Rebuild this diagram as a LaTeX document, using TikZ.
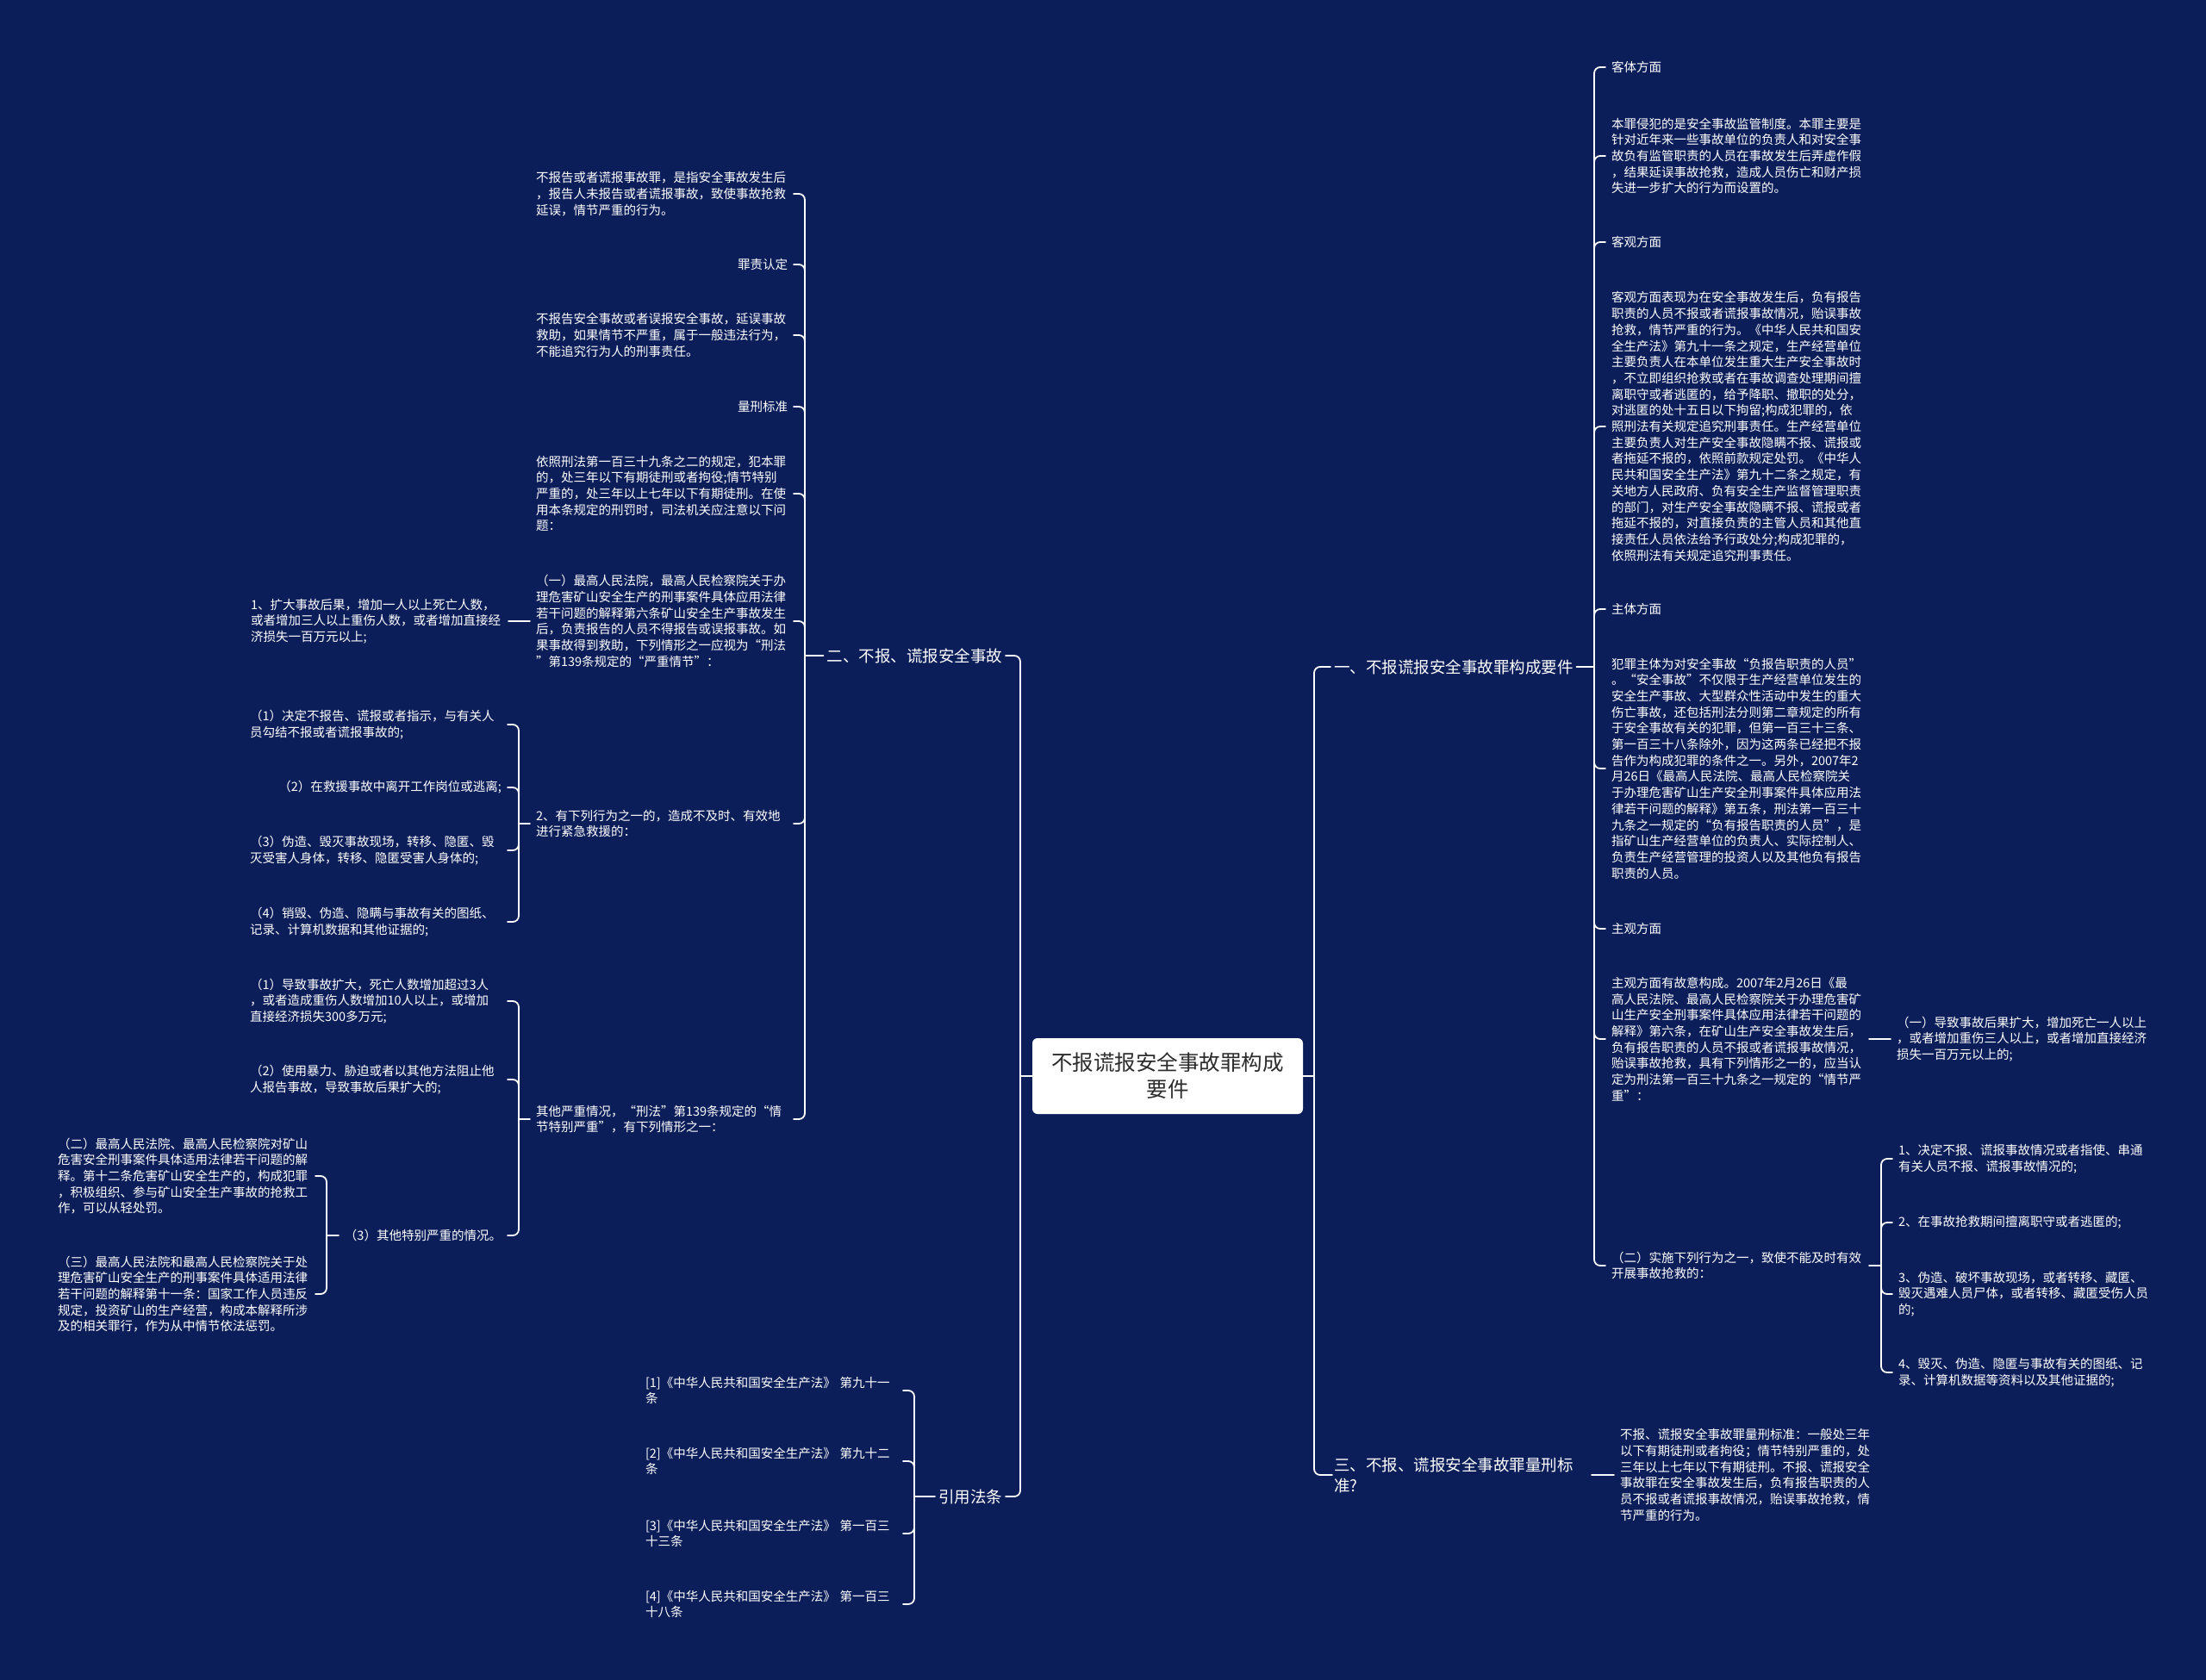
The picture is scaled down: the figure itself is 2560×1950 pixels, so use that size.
\documentclass[tikz,border=0pt]{standalone}
\usepackage{fontspec}
\setmainfont{Noto Sans CJK SC}
\begin{document}
\begin{tikzpicture}[x=1pt,y=-1pt, line cap=round, line join=round]
  \definecolor{Navy}{HTML}{0C1E5A}
  \definecolor{Ink}{HTML}{2B2B2B}

  \tikzset{
    root/.style={fill=white, rounded corners=6pt, minimum width=314pt, minimum height=88pt,
      align=center, text=Ink, font=\fontsize{24.5}{31}\selectfont, inner sep=0pt},
    branch/.style={text=white, font=\fontsize{18.5}{24}\selectfont, inner sep=0pt, outer xsep=4pt, align=left},
    leaf/.style={text=white, font=\fontsize{14.5}{18.7}\selectfont, inner sep=0pt, outer xsep=7pt, align=left},
    para/.style={leaf, text width=292pt},
    link/.style={draw=white, line width=1.8pt, rounded corners=7pt}
  }

  \fill[Navy] (0,0) rectangle (2560,1950);

  % bar positions
  \coordinate (tl) at (1184,0);
  \coordinate (tr) at (1525,0);
  \coordinate (b2) at (934,0);
  \coordinate (b7) at (602,0);
  \coordinate (b8) at (602,0);
  \coordinate (b8c) at (379,0);
  \coordinate (bref) at (1061,0);
  \coordinate (bk) at (1850,0);
  \coordinate (bk9) at (2183,0);

  \node[root] (root) at (1355,1249) {不报谎报安全事故罪构成\\要件};

  \node[branch, anchor=east] (l2) at (1167,761) {二、不报、谎报安全事故};
  \node[branch, anchor=east] (lref) at (1167,1737) {引用法条};
  \node[branch, anchor=west] (l1) at (1544,774) {一、不报谎报安全事故罪构成要件};
  \node[branch, anchor=west, outer xsep=-2pt, xshift=6pt] (l3) at (1544,1712) {三、不报、谎报安全事故罪量刑标\\准?};

  % left: 二
  \node[para, anchor=east] (s1) at (921,225) {不报告或者谎报事故罪，是指安全事故发生后\\，报告人未报告或者谎报事故，致使事故抢救\\延误，情节严重的行为。};
  \node[leaf, anchor=east] (s2) at (921,307) {罪责认定};
  \node[para, anchor=east] (s3) at (921,389) {不报告安全事故或者误报安全事故，延误事故\\救助，如果情节不严重，属于一般违法行为，\\不能追究行为人的刑事责任。};
  \node[leaf, anchor=east] (s4) at (921,472) {量刑标准};
  \node[para, anchor=east] (s5) at (921,573) {依照刑法第一百三十九条之二的规定，犯本罪\\的，处三年以下有期徒刑或者拘役;情节特别\\严重的，处三年以上七年以下有期徒刑。在使\\用本条规定的刑罚时，司法机关应注意以下问\\题：};
  \node[para, anchor=east] (s6) at (921,721) {（一）最高人民法院，最高人民检察院关于办\\理危害矿山安全生产的刑事案件具体应用法律\\若干问题的解释第六条矿山安全生产事故发生\\后，负责报告的人员不得报告或误报事故。如\\果事故得到救助，下列情形之一应视为“刑法\\”第139条规定的“严重情节”：};
  \node[para, anchor=east] (s7) at (921,956) {2、有下列行为之一的，造成不及时、有效地\\进行紧急救援的：};
  \node[para, anchor=east] (s8) at (921,1299) {其他严重情况，“刑法”第139条规定的“情\\节特别严重”，有下列情形之一：};

  \node[para, anchor=east] (s6a) at (590,721) {1、扩大事故后果，增加一人以上死亡人数，\\或者增加三人以上重伤人数，或者增加直接经\\济损失一百万元以上;};

  \node[para, anchor=east] (s7a) at (589,841) {（1）决定不报告、谎报或者指示，与有关人\\员勾结不报或者谎报事故的;};
  \node[leaf, anchor=east] (s7b) at (589,914) {（2）在救援事故中离开工作岗位或逃离;};
  \node[para, anchor=east] (s7c) at (589,987) {（3）伪造、毁灭事故现场，转移、隐匿、毁\\灭受害人身体，转移、隐匿受害人身体的;};
  \node[para, anchor=east] (s7d) at (589,1070) {（4）销毁、伪造、隐瞒与事故有关的图纸、\\记录、计算机数据和其他证据的;};

  \node[para, anchor=east] (s8a) at (589,1162) {（1）导致事故扩大，死亡人数增加超过3人\\，或者造成重伤人数增加10人以上，或增加\\直接经济损失300多万元;};
  \node[para, anchor=east] (s8b) at (589,1253) {（2）使用暴力、胁迫或者以其他方法阻止他\\人报告事故，导致事故后果扩大的;};
  \node[leaf, anchor=east] (s8c) at (589,1434) {（3）其他特别严重的情况。};

  \node[para, anchor=east] (s8c1) at (366,1365) {（二）最高人民法院、最高人民检察院对矿山\\危害安全刑事案件具体适用法律若干问题的解\\释。第十二条危害矿山安全生产的，构成犯罪\\，积极组织、参与矿山安全生产事故的抢救工\\作，可以从轻处罚。};
  \node[para, anchor=east] (s8c2) at (366,1502) {（三）最高人民法院和最高人民检察院关于处\\理危害矿山安全生产的刑事案件具体适用法律\\若干问题的解释第十一条：国家工作人员违反\\规定，投资矿山的生产经营，构成本解释所涉\\及的相关罪行，作为从中情节依法惩罚。};

  % left: 引用法条
  \node[para, anchor=east] (ref1) at (1048,1614) {[1]《中华人民共和国安全生产法》 第九十一\\条};
  \node[para, anchor=east] (ref2) at (1048,1696) {[2]《中华人民共和国安全生产法》 第九十二\\条};
  \node[para, anchor=east] (ref3) at (1048,1780) {[3]《中华人民共和国安全生产法》 第一百三\\十三条};
  \node[para, anchor=east] (ref4) at (1048,1862) {[4]《中华人民共和国安全生产法》 第一百三\\十八条};

  % right: 一
  \node[leaf, anchor=west] (k1) at (1863,78) {客体方面};
  \node[para, anchor=west] (k2) at (1863,181) {本罪侵犯的是安全事故监管制度。本罪主要是\\针对近年来一些事故单位的负责人和对安全事\\故负有监管职责的人员在事故发生后弄虚作假\\，结果延误事故抢救，造成人员伤亡和财产损\\失进一步扩大的行为而设置的。};
  \node[leaf, anchor=west] (k3) at (1863,281) {客观方面};
  \node[para, anchor=west] (k4) at (1863,495) {客观方面表现为在安全事故发生后，负有报告\\职责的人员不报或者谎报事故情况，贻误事故\\抢救，情节严重的行为。《中华人民共和国安\\全生产法》第九十一条之规定，生产经营单位\\主要负责人在本单位发生重大生产安全事故时\\，不立即组织抢救或者在事故调查处理期间擅\\离职守或者逃匿的，给予降职、撤职的处分，\\对逃匿的处十五日以下拘留;构成犯罪的，依\\照刑法有关规定追究刑事责任。生产经营单位\\主要负责人对生产安全事故隐瞒不报、谎报或\\者拖延不报的，依照前款规定处罚。《中华人\\民共和国安全生产法》第九十二条之规定，有\\关地方人民政府、负有安全生产监督管理职责\\的部门，对生产安全事故隐瞒不报、谎报或者\\拖延不报的，对直接负责的主管人员和其他直\\接责任人员依法给予行政处分;构成犯罪的，\\依照刑法有关规定追究刑事责任。};
  \node[leaf, anchor=west] (k5) at (1863,707) {主体方面};
  \node[para, anchor=west] (k6) at (1863,892) {犯罪主体为对安全事故“负报告职责的人员”\\。“安全事故”不仅限于生产经营单位发生的\\安全生产事故、大型群众性活动中发生的重大\\伤亡事故，还包括刑法分则第二章规定的所有\\于安全事故有关的犯罪，但第一百三十三条、\\第一百三十八条除外，因为这两条已经把不报\\告作为构成犯罪的条件之一。另外，2007年2\\月26日《最高人民法院、最高人民检察院关\\于办理危害矿山生产安全刑事案件具体应用法\\律若干问题的解释》第五条，刑法第一百三十\\九条之一规定的“负有报告职责的人员”，是\\指矿山生产经营单位的负责人、实际控制人、\\负责生产经营管理的投资人以及其他负有报告\\职责的人员。};
  \node[leaf, anchor=west] (k7) at (1863,1078) {主观方面};
  \node[para, anchor=west] (k8) at (1863,1206) {主观方面有故意构成。2007年2月26日《最\\高人民法院、最高人民检察院关于办理危害矿\\山生产安全刑事案件具体应用法律若干问题的\\解释》第六条，在矿山生产安全事故发生后，\\负有报告职责的人员不报或者谎报事故情况，\\贻误事故抢救，具有下列情形之一的，应当认\\定为刑法第一百三十九条之一规定的“情节严\\重”：};
  \node[para, anchor=west] (k9) at (1863,1469) {（二）实施下列行为之一，致使不能及时有效\\开展事故抢救的：};

  \node[para, anchor=west] (k8a) at (2194,1206) {（一）导致事故后果扩大，增加死亡一人以上\\，或者增加重伤三人以上，或者增加直接经济\\损失一百万元以上的;};

  \node[para, anchor=west] (k9a) at (2196,1345) {1、决定不报、谎报事故情况或者指使、串通\\有关人员不报、谎报事故情况的;};
  \node[leaf, anchor=west] (k9b) at (2196,1419) {2、在事故抢救期间擅离职守或者逃匿的;};
  \node[para, anchor=west] (k9c) at (2196,1502) {3、伪造、破坏事故现场，或者转移、藏匿、\\毁灭遇难人员尸体，或者转移、藏匿受伤人员\\的;};
  \node[para, anchor=west] (k9d) at (2196,1593) {4、毁灭、伪造、隐匿与事故有关的图纸、记\\录、计算机数据等资料以及其他证据的;};

  % right: 三
  \node[para, anchor=west] (t3) at (1873,1712) {不报、谎报安全事故罪量刑标准：一般处三年\\以下有期徒刑或者拘役；情节特别严重的，处\\三年以上七年以下有期徒刑。不报、谎报安全\\事故罪在安全事故发生后，负有报告职责的人\\员不报或者谎报事故情况，贻误事故抢救，情\\节严重的行为。};
  \coordinate (t3in) at ([xshift=-26pt]t3.west);

  % root to branches
  \draw[link] (root.west) -- (root.west -| tl);
  \foreach \n in {l2,lref} \draw[link] (root.west -| tl) |- (\n.east);
  \draw[link] (root.east) -- (root.east -| tr);
  \draw[link] (root.east -| tr) |- (l1.west);
  \draw[link] (root.east -| tr) |- ([xshift=-4pt]l3.west);

  % branch 二
  \draw[link] (l2.west) -- (l2.west -| b2);
  \foreach \i in {1,...,8} \draw[link] (l2.west -| b2) |- (s\i.east);
  \draw[link] (s6.west) -- (s6a.east);
  \draw[link] (s7.west) -- (s7.west -| b7);
  \foreach \n in {a,b,c,d} \draw[link] (s7.west -| b7) |- (s7\n.east);
  \draw[link] (s8.west) -- (s8.west -| b8);
  \foreach \n in {a,b,c} \draw[link] (s8.west -| b8) |- (s8\n.east);
  \draw[link] (s8c.west) -- (s8c.west -| b8c);
  \foreach \n in {1,2} \draw[link] (s8c.west -| b8c) |- (s8c\n.east);

  % 引用法条
  \draw[link] (lref.west) -- (lref.west -| bref);
  \foreach \i in {1,...,4} \draw[link] (lref.west -| bref) |- (ref\i.east);

  % branch 一
  \draw[link] (l1.east) -- (l1.east -| bk);
  \foreach \i in {1,...,9} \draw[link] (l1.east -| bk) |- (k\i.west);
  \draw[link] (k8.east) -- (k8a.west);
  \draw[link] (k9.east) -- (k9.east -| bk9);
  \foreach \n in {a,b,c,d} \draw[link] (k9.east -| bk9) |- (k9\n.west);

  % branch 三
  \draw[link] (t3in) -- (t3.west);
\end{tikzpicture}
\end{document}
